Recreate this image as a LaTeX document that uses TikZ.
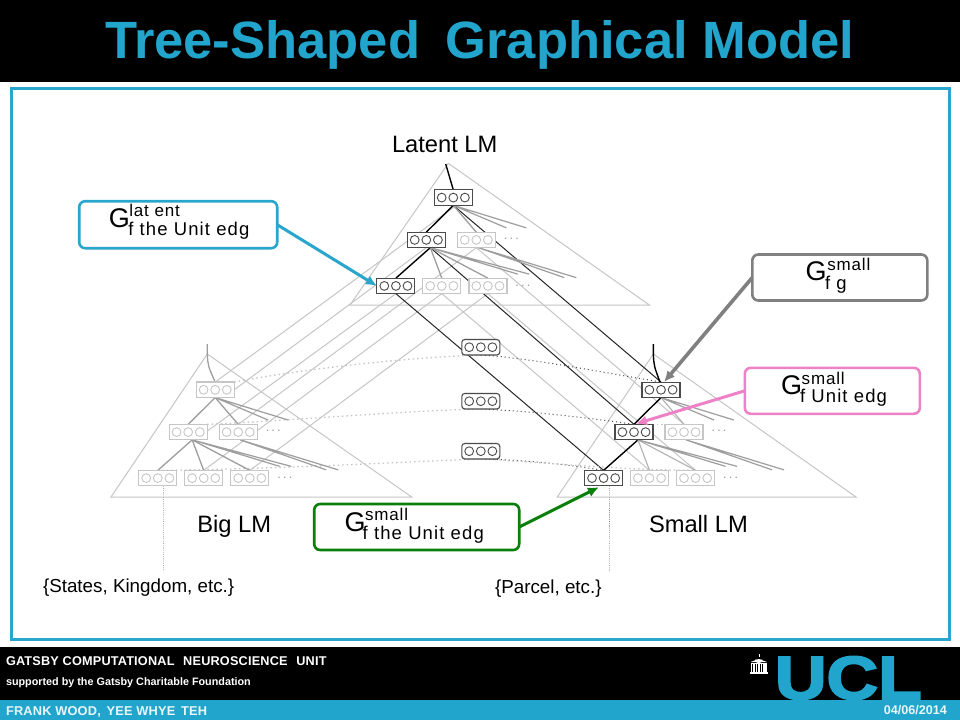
\documentclass[tikz,border=0pt]{standalone}
\usepackage{fontspec}
\setmainfont{Liberation Sans}
\newfontfamily\spacedsup[LetterSpace=5]{Liberation Sans}
\newfontfamily\spacedsub[LetterSpace=6]{Liberation Sans}
\newfontfamily\spacedb[LetterSpace=1.5]{Liberation Sans Bold}
\newfontfamily\uclfont[FakeBold=3]{Liberation Sans Bold}
\usetikzlibrary{calc,arrows.meta}
\pgfdeclarelayer{back}
\pgfsetlayers{back,main}
\definecolor{uclblue}{HTML}{22A5CC}
\definecolor{boxblue}{HTML}{2AA5CB}
\definecolor{lightgr}{HTML}{C6C6C6}
\definecolor{midgr}{HTML}{9E9E9E}
\definecolor{darkgr}{HTML}{4A4A4A}
\definecolor{pinkc}{HTML}{EE82C6}
\definecolor{greenc}{HTML}{0B7F0B}
\definecolor{greyc}{HTML}{808080}
\newcommand\fs[1]{\fontsize{#1}{#1}\selectfont}
\tikzset{
 tbase/.style={rectangle,minimum width=38pt,minimum height=15.5pt,inner sep=0pt,outer sep=0pt,fill=white},
 boxdark/.style={tbase,draw=darkgr,line width=1.1pt},
 boxlight/.style={tbase,draw=lightgr,line width=1.2pt},
 boxmid/.style={tbase,draw=darkgr,line width=1.1pt,rounded corners=3pt},
 dotc/.style={circle,minimum size=8.8pt,inner sep=0pt,outer sep=0pt,line width=.9pt},
 tri/.style={draw=lightgr,line width=1pt,line join=miter},
 cross/.style={draw=lightgr,line width=1pt},
 blackline/.style={draw=black!85,line width=1pt},
 topedge/.style={draw=black,line width=1.4pt},
 midedge/.style={draw=midgr,line width=1.3pt},
 lightedge/.style={draw=midgr!80,line width=1.1pt},
 stub/.style={draw=midgr,line width=1.2pt},
 dotlight/.style={draw=lightgr,line width=1.3pt,dash pattern=on 1.5pt off 3pt},
 dotdark/.style={draw=darkgr,line width=1pt,dash pattern=on 1pt off 3pt},
 vdot/.style={draw=darkgr!80,line width=.6pt,dash pattern=on .8pt off 1.4pt},
 callout/.style={rectangle,rounded corners=6pt,line width=2.6pt,fill=white,inner sep=0pt,outer sep=0pt},
 callarrow/.style={line width=3pt,-{Latex[length=11pt,width=10pt]}},
 lab/.style={anchor=base west,inner sep=0pt,outer sep=0pt,text=black},
 big/.style={lab,font=\fs{23.7}},
 sm/.style={lab,font=\fs{18.8}},
 gg/.style={anchor=center,inner sep=0pt,outer sep=0pt,font=\fs{27}},
 sup/.style={lab,font=\spacedsup\fs{17}},
 sub/.style={lab,font=\spacedsub\fs{18.5}},
 foot/.style={anchor=base west,inner sep=0pt,outer sep=0pt,text=white},
 ell/.style={inner sep=0pt,outer sep=0pt,text=midgr,font=\bfseries\fs{9}},
}
\newcommand\tripbox[5]{%
 \node[#4] (#1) at (#2,#3) {};
 \node[dotc,draw=#5] (#1l) at ([xshift=-11.6pt]#1.center) {};
 \node[dotc,draw=#5] (#1m) at (#1.center) {};
 \node[dotc,draw=#5] (#1r) at ([xshift=11.6pt]#1.center) {};
}
% #1 prefix, #2 x, #3 y : the six boxes with the first path dark (#4) or light (#5)
\newcommand\treeboxes[5]{%
 \tripbox{#11}{#2}{#3}{#4}{#5}
 \tripbox{#12a}{\fpeval{#2-27}}{\fpeval{#3+42.3}}{#4}{#5}
 \tripbox{#12b}{\fpeval{#2+23}}{\fpeval{#3+42.3}}{boxlight}{lightgr}
 \tripbox{#13a}{\fpeval{#2-57.4}}{\fpeval{#3+88.3}}{#4}{#5}
 \tripbox{#13b}{\fpeval{#2-11.5}}{\fpeval{#3+88.3}}{boxlight}{lightgr}
 \tripbox{#13c}{\fpeval{#2+34.6}}{\fpeval{#3+88.3}}{boxlight}{lightgr}
 \node[ell] (#1e2) at ([xshift=35pt,yshift=1pt]#12b.center) {.\hspace{3.2pt}.\hspace{3.2pt}.};
 \node[ell] (#1e3) at ([xshift=35pt]#13c.center) {.\hspace{3.2pt}.\hspace{3.2pt}.};
}
% #1 prefix, #2 main-path style, #3 side style
\newcommand\treeedges[3]{%
 \draw[#2] (#11.south) -- (#12a.north);
 \draw[#3] (#11.south) -- (#12b.north);
 \draw[#2] ([xshift=4pt]#12a.south) -- (#13a.north);
 \draw[#3] ([xshift=4pt]#12a.south) -- (#13b.north);
 \draw[#3] ([xshift=4pt]#12a.south) -- (#13c.north);
 \draw[stub] (#11.south) -- +(53,22.5) (#11.south) -- +(73,22.5);
 \draw[stub] ([xshift=4pt]#12a.south) -- +(87.5,26.5) ([xshift=4pt]#12a.south) -- +(99,26.5);
 \draw[stub] ([xshift=2pt]#12b.south) -- +(86,30) ([xshift=2pt]#12b.south) -- +(98,30);
}
\begin{document}
\begin{tikzpicture}[x=1pt,y=-1pt]
\useasboundingbox (0,0) rectangle (960,720);
\begin{pgfonlayer}{back}
 \fill[white] (0,0) rectangle (960,720);
\end{pgfonlayer}
% bars
\fill[black] (0,0) rectangle (960,82);
\fill[black] (0,647) rectangle (960,700);
\fill[uclblue] (0,700) rectangle (960,720);
\draw[boxblue,line width=3pt] (11.5,88.5) rectangle (949.5,639.5);
% title
\node[foot,text=uclblue,font=\bfseries\fs{52.5}] (title) at (105,58.5) {Tree-Shaped\hspace{11pt} Graphical Model};
% boxes
\treeboxes{L}{453.3}{197.6}{boxdark}{darkgr}
\treeboxes{B}{215.2}{389.8}{boxlight}{lightgr}
\treeboxes{S}{661}{389.8}{boxdark}{darkgr}
\tripbox{Ma}{480.8}{347.2}{boxmid}{darkgr}
\tripbox{Mb}{480.8}{401.2}{boxmid}{darkgr}
\tripbox{Mc}{480.8}{451.2}{boxmid}{darkgr}
\coordinate (Lstem) at (445.7,164);
\coordinate (Bstem) at (207.3,344);
\coordinate (Sstem) at (653.3,344);
\coordinate (Bdrop) at (163.3,570);
\coordinate (Sdrop) at (609.3,572);
\begin{pgfonlayer}{back}
 % triangles
 \draw[tri] (448.3,163.3) -- (350,305) -- (649.3,305) -- cycle;
 \draw[tri] (207.3,354) -- (111,497) -- (411.7,497) -- cycle;
 \draw[tri] (653.3,354) -- (557.3,497) -- (856,497) -- cycle;
 % cross-links to the left tree
 \draw[cross] (B1.north) -- ([xshift=3pt]L1.south);
 \draw[cross] (B1.east) -- (L2a.south);
 \draw[cross] ([xshift=0pt,yshift=1pt]B2a.east) -- (L3a.south);
 \draw[cross] (B2b.north) -- (L2b.south);
 \draw[cross] (B3b.north) -- (L3b.south);
 \draw[cross] (B3c.north) -- (L3c.south);
 % cross-links to the right tree
 \draw[cross] (L2b.south) -- (S2b.north);
 \draw[cross] (L3b.south) -- (S3b.north);
 \draw[cross] (L3c.south) -- (S3c.north);
 \draw[blackline] (L1.south) -- (S1.north);
 \draw[blackline] ([xshift=4pt]L2a.south) -- (S2a.north);
 \draw[blackline] (L3a.south) -- (S3a.north);
 % dotted curves
 \draw[dotlight] (B1.north east) .. controls (320,366) and (420,357) .. (Ma.south);
 \draw[dotdark] (Ma.south) .. controls (530,358) and (600,372) .. (S1.north);
 \draw[dotlight] (B2a.north east) .. controls (300,420) and (400,411) .. (Mb.south);
 \draw[dotdark] (Mb.south) .. controls (530,411) and (590,418) .. (S2a.north);
 \draw[dotlight] (S2a.north) -- (S2b.north);
 \draw[dotlight] (B3a.north) .. controls (280,469) and (400,462) .. (Mc.south);
 \draw[dotdark] (Mc.south) .. controls (530,460) and (570,465) .. (S3a.north);
 \draw[dotlight] (Mc.south) .. controls (540,462) and (620,470) .. (S3c.north);
 % tree edges
 \treeedges{L}{topedge}{midedge}
 \treeedges{B}{midedge}{midedge}
 \treeedges{S}{topedge}{lightedge}
 \draw[topedge] (Lstem) -- (L1.north);
 \draw[midedge] (Bstem) -- ++(0,10) .. controls (208,366) .. (B1.north);
 \draw[topedge] (Sstem) -- ++(0,10) .. controls (654,366) .. ([xshift=-1pt]S1.north);
 \draw[vdot] ([xshift=5.6pt]B3a.south) -- (Bdrop);
 \draw[vdot] ([xshift=6pt]S3a.south) -- (Sdrop);
\end{pgfonlayer}
% callouts
\node[callout,draw=boxblue,minimum width=198pt,minimum height=47pt] (cb) at (178.2,224.7) {};
\node[callout,draw=greyc,minimum width=175pt,minimum height=46pt] (cg) at (839.8,277.5) {};
\node[callout,draw=pinkc,minimum width=175pt,minimum height=46pt] (cp) at (832.3,390.8) {};
\node[callout,draw=greenc,minimum width=205pt,minimum height=46pt] (cd) at (416.7,527) {};
\draw[callarrow,boxblue] (cb.east) -- (L3a.west);
\draw[callarrow,greyc,line width=3.6pt] (cg.west) -- ([xshift=3pt]S1.north);
\draw[callarrow,pinkc,shorten >=2pt] (cp.west) -- (S2a.north);
\draw[callarrow,greenc,shorten >=3pt] (cd.east) -- ([xshift=-2pt]S3a.south);
% callout texts
\node[gg] (g1) at (119.3,218.3) {G};
\node[sup] (s1) at (129.3,216.7) {lat ent};
\node[sub] (u1) at (128.3,235.7) {f the Unit edg};
\node[gg] (g2) at (816,271) {G};
\node[sup] (s2) at (827.3,270) {small};
\node[sub] (u2) at (825,289) {f g};
\node[gg] (g3) at (791.7,385) {G};
\node[sup] (s3) at (801.7,384) {small};
\node[sub] (u3) at (800,402.7) {f Unit edg};
\node[gg] (g4) at (355,521.7) {G};
\node[sup] (s4) at (365,520) {small};
\node[sub] (u4) at (362.7,539) {f the Unit edg};
% labels
\node[big] (tl) at (392,152.7) {Latent LM};
\node[big] (tb) at (197.3,532) {Big LM};
\node[big] (ts) at (649,532) {Small LM};
\node[sm] (nb) at (43,592.5) {\{States, Kingdom, etc.\}};
\node[sm] (ns) at (495,593) {\{Parcel, etc.\}};
% footer
\node[foot,font=\spacedb\fs{12.7}] (f1) at (6,665) {GATSBY COMPUTATIONAL\hspace{5pt} NEUROSCIENCE\hspace{5pt} UNIT};
\node[foot,font=\bfseries\fs{10.8}] (f2) at (6,685) {supported by the Gatsby Charitable Foundation};
\node[foot,font=\spacedb\fs{12.8},text=white!90!uclblue] (f3) at (6,715) {FRANK WOOD,\hspace{2pt} YEE WHYE\hspace{2pt} TEH};
\node[foot,font=\bfseries\fs{12.6},text=white!90!uclblue,anchor=base east] (f4) at (947,714) {04/06/2014};
% logo
\node[foot,text=uclblue,font=\uclfont\fs{61}] (ucl) at (775,699) {\scalebox{1.17}[1]{UCL}};
% portico
\fill[white] (755,659.5) arc[start angle=180,end angle=0,radius=3.7] -- cycle;
\fill[white] (758.5,653.5) rectangle (759.2,656.5);
\fill[white] (750.5,662) -- (758.7,659) -- (767,662) -- cycle;
\fill[white] (750.5,662.5) rectangle (767,664);
\foreach \cx in {751.5,754,756.5,759,761.5,764,766}{\fill[white] (\cx-.6,664) rectangle (\cx+.6,672);}
\fill[white] (750,672) rectangle (767.5,674);
\end{tikzpicture}
\end{document}
